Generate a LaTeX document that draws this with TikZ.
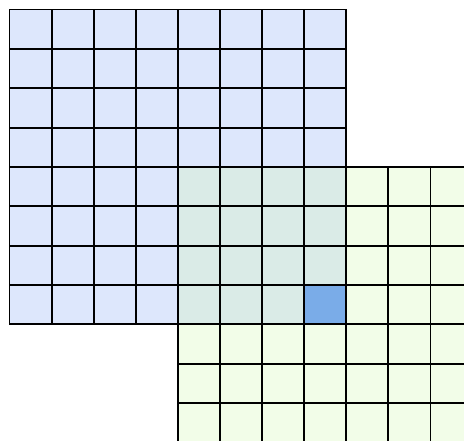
\documentclass[tikz,border=0pt]{standalone}
\usepackage{tikz}
\usetikzlibrary{calc}
\definecolor{bluecell}{RGB}{221,231,252}
\definecolor{greencell}{RGB}{242,253,232}
\definecolor{bothcell}{RGB}{218,235,231}
\definecolor{markcell}{RGB}{122,172,232}
\tikzset{
    myline/.style={line width=1.9pt,draw=black,line cap=rect},
    myblue/.style={fill=bluecell},
    mygreen/.style={fill=greencell},
    myboth/.style={fill=bothcell},
    mymark/.style={fill=markcell}
}
\begin{document}
\begin{tikzpicture}[x=1pt,y=-1pt]
  \useasboundingbox (0,0) rectangle (464,440);
  \clip (0,0) rectangle (464,440);
  \def\cw{42.1}
  \def\ch{39.35}
  \coordinate (B) at (9.5,9.5);
  \coordinate (G) at ($(B)+(4*\cw,4*\ch)$);
  \coordinate (E) at ($(B)+(8*\cw,8*\ch)$);
  \coordinate (M) at ($(B)+(7*\cw,7*\ch)$);
  % fills
  \fill[mygreen] (G) rectangle ++(8*\cw,8*\ch);
  \fill[myblue] (B) rectangle (E);
  \fill[myboth] (G) rectangle (E);
  \fill[mymark] (M) rectangle (E);
  % grid lines
  \foreach \P in {B,G}{
    \foreach \i in {0,...,8}{
      \draw[myline] ($(\P)+(\i*\cw,0)$) -- ++(0,8*\ch);
      \draw[myline] ($(\P)+(0,\i*\ch)$) -- ++(8*\cw,0);
    }
  }
\end{tikzpicture}
\end{document}
